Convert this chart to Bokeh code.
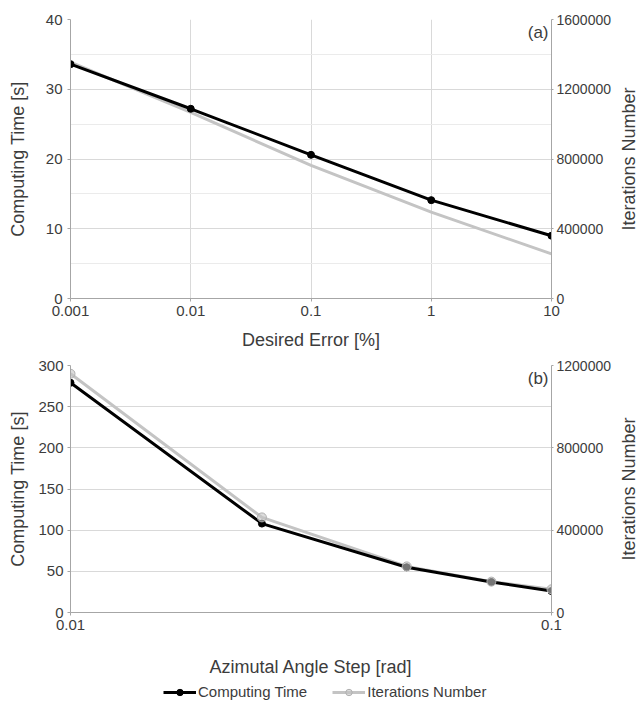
from bokeh.plotting import figure
from bokeh.models import (Range1d, LinearAxis, FixedTicker, Label, Legend,
                          LegendItem, NumeralTickFormatter)
from bokeh.layouts import column, row
from bokeh.embed import file_html
from bokeh.resources import INLINE

# ---- data (a) ----
desired_error = [0.001, 0.01, 0.1, 1, 10]
time_a = [33.6, 27.2, 20.6, 14.1, 9.0]
iter_a = [1355000, 1067000, 763000, 495000, 256000]
x_ticks_a = [0.001, 0.01, 0.1, 1, 10]
y_ticks_a = [0, 10, 20, 30, 40]
y_minor_a = [5, 15, 25, 35]
r_ticks_a = [0, 400000, 800000, 1200000, 1600000]

# ---- data (b) ----
angle_step = [0.01, 0.025, 0.05, 0.075, 0.1]
time_b = [279, 108, 55, 37, 26]
iter_b = [1160000, 462000, 224000, 150000, 113000]
x_ticks_b = [0.01, 0.1]
y_ticks_b = [0, 50, 100, 150, 200, 250, 300]
r_ticks_b = [0, 400000, 800000, 1200000]

FONT = "Liberation Sans"
TXT = "#3c3c3c"
GRID = "#d9d9d9"
AXIS = "#a6a6a6"
BLACK = "#000000"
GREY = "#c4c4c4"

W = 616
SIDE_W = 22
LEFT = 70
RIGHT = 65


def style(p, left_standoff, right_axis):
    p.outline_line_color = None
    p.background_fill_color = "white"
    for ax in p.axis:
        ax.axis_line_color = AXIS
        ax.major_tick_line_color = AXIS
        ax.minor_tick_line_color = None
        ax.major_tick_in = 0
        ax.major_tick_out = 3
        ax.major_label_text_font = FONT
        ax.major_label_text_font_size = "15px"
        ax.major_label_text_color = TXT
        ax.axis_label_text_font = FONT
        ax.axis_label_text_font_size = "18px"
        ax.axis_label_text_font_style = "normal"
        ax.axis_label_text_color = TXT
        ax.major_label_standoff = 4
    p.yaxis[0].axis_label_standoff = left_standoff
    right_axis.major_tick_out = 2
    right_axis.major_label_standoff = 3
    right_axis.major_label_text_font_size = "14px"


def side_label(height, top, bottom, text):
    """Narrow strip carrying the right-hand axis title, reading upward."""
    q = figure(width=SIDE_W, height=height, x_range=Range1d(0, 1),
               y_range=Range1d(0, 1), output_backend="svg",
               toolbar_location=None, x_axis_location=None,
               y_axis_location="left", min_border_left=0, min_border_right=0,
               min_border_top=top, min_border_bottom=bottom)
    q.outline_line_color = None
    q.xgrid.grid_line_color = None
    q.ygrid.grid_line_color = None
    ax = q.yaxis[0]
    ax.ticker = FixedTicker(ticks=[])
    ax.axis_line_color = None
    ax.major_tick_line_color = None
    ax.minor_tick_line_color = None
    ax.axis_label = text
    ax.axis_label_standoff = 0
    ax.axis_label_text_font = FONT
    ax.axis_label_text_font_size = "18px"
    ax.axis_label_text_font_style = "normal"
    ax.axis_label_text_color = TXT
    return q


# ---------------- figure (a) ----------------
p1 = figure(width=W, height=356, x_axis_type="log",
            x_range=Range1d(0.001, 10), y_range=Range1d(0, 40),
            output_backend="svg", toolbar_location=None,
            min_border_left=LEFT, min_border_right=RIGHT,
            min_border_top=19, min_border_bottom=58)
p1.extra_y_ranges = {"iter": Range1d(0, 1600000)}
p1.xaxis.ticker = FixedTicker(ticks=x_ticks_a)
p1.xaxis.formatter = NumeralTickFormatter(format="0.[000]")
p1.xaxis.axis_label = "Desired Error [%]"
p1.xaxis.axis_label_standoff = 11
p1.yaxis.ticker = FixedTicker(ticks=y_ticks_a, minor_ticks=y_minor_a)
p1.yaxis.axis_label = "Computing Time [s]"
ra = LinearAxis(y_range_name="iter", ticker=FixedTicker(ticks=r_ticks_a),
                formatter=NumeralTickFormatter(format="0"))
p1.add_layout(ra, "right")
p1.xgrid.ticker = FixedTicker(ticks=x_ticks_a)
p1.xgrid.grid_line_color = GRID
p1.ygrid.grid_line_color = GRID
p1.ygrid.minor_grid_line_color = "#ebebeb"

p1.line(desired_error, iter_a, y_range_name="iter", line_color=GREY, line_width=3)
p1.line(desired_error, time_a, line_color=BLACK, line_width=3)
p1.scatter(desired_error, time_a, size=7, fill_color=BLACK, line_color=BLACK)
p1.add_layout(Label(x=10, y=40, x_offset=-3, y_offset=-3, text="(a)",
                    text_align="right", text_baseline="top",
                    text_font=FONT, text_font_size="17px", text_color=TXT))
style(p1, 15, ra)

# ---------------- figure (b) ----------------
p2 = figure(width=W, height=326, x_axis_type="log",
            x_range=Range1d(0.01, 0.1), y_range=Range1d(0, 300),
            output_backend="svg", toolbar_location=None,
            min_border_left=LEFT, min_border_right=RIGHT,
            min_border_top=9, min_border_bottom=70)
p2.extra_y_ranges = {"iter": Range1d(0, 1200000)}
p2.xaxis.ticker = FixedTicker(ticks=x_ticks_b)
p2.xaxis.formatter = NumeralTickFormatter(format="0.[00]")
p2.xaxis.axis_label = "Azimutal Angle Step [rad]"
p2.xaxis.axis_label_standoff = 24
p2.yaxis.ticker = FixedTicker(ticks=y_ticks_b)
p2.yaxis.axis_label = "Computing Time [s]"
rb = LinearAxis(y_range_name="iter", ticker=FixedTicker(ticks=r_ticks_b),
                formatter=NumeralTickFormatter(format="0"))
p2.add_layout(rb, "right")
p2.xgrid.grid_line_color = None
p2.ygrid.grid_line_color = GRID

p2.line(angle_step, iter_b, y_range_name="iter", line_color=GREY, line_width=3)
p2.line(angle_step, time_b, line_color=BLACK, line_width=3)
p2.scatter(angle_step, time_b, size=7, fill_color=BLACK, line_color=BLACK)
p2.scatter(angle_step, iter_b, y_range_name="iter", size=9,
           fill_color=GREY, fill_alpha=0.6, line_color="#b0b0b0")
p2.add_layout(Label(x=0.1, y=300, x_offset=-3, y_offset=-3, text="(b)",
                    text_align="right", text_baseline="top",
                    text_font=FONT, text_font_size="17px", text_color=TXT))
style(p2, 7, rb)

# ---------------- legend strip (series kept out of its visible ranges) ----
p3 = figure(width=W, height=20, x_range=Range1d(1, 2), y_range=Range1d(-2, -1),
            output_backend="svg", toolbar_location=None,
            x_axis_location=None, y_axis_location=None,
            min_border=0, min_border_left=LEFT, min_border_right=RIGHT,
            min_border_top=0, min_border_bottom=0)
p3.outline_line_color = None
p3.xgrid.grid_line_color = None
p3.ygrid.grid_line_color = None
bl = p3.line(angle_step, time_b, line_color=BLACK, line_width=3)
bs = p3.scatter(angle_step, time_b, size=7, fill_color=BLACK, line_color=BLACK)
gl = p3.line(angle_step, iter_b, line_color=GREY, line_width=3)
gs = p3.scatter(angle_step, iter_b, size=9, fill_color=GREY, fill_alpha=0.6,
                line_color="#b0b0b0")
legend = Legend(items=[LegendItem(label="Computing Time", renderers=[bl, bs]),
                       LegendItem(label="Iterations Number", renderers=[gl, gs])],
                orientation="horizontal", location=(93, 2),
                border_line_color=None, background_fill_alpha=0,
                label_text_font=FONT, label_text_font_size="15px",
                label_text_color=TXT, glyph_width=33, glyph_height=16,
                label_standoff=2, spacing=25, padding=0, margin=0)
p3.add_layout(legend)

q1 = side_label(356, 19, 58, "Iterations Number")
q2 = side_label(326, 9, 70, "Iterations Number")

layout = row(column(p1, p2, p3, spacing=0), column(q1, q2, spacing=0), spacing=0)
open("out.html", "w").write(file_html(layout, INLINE))
